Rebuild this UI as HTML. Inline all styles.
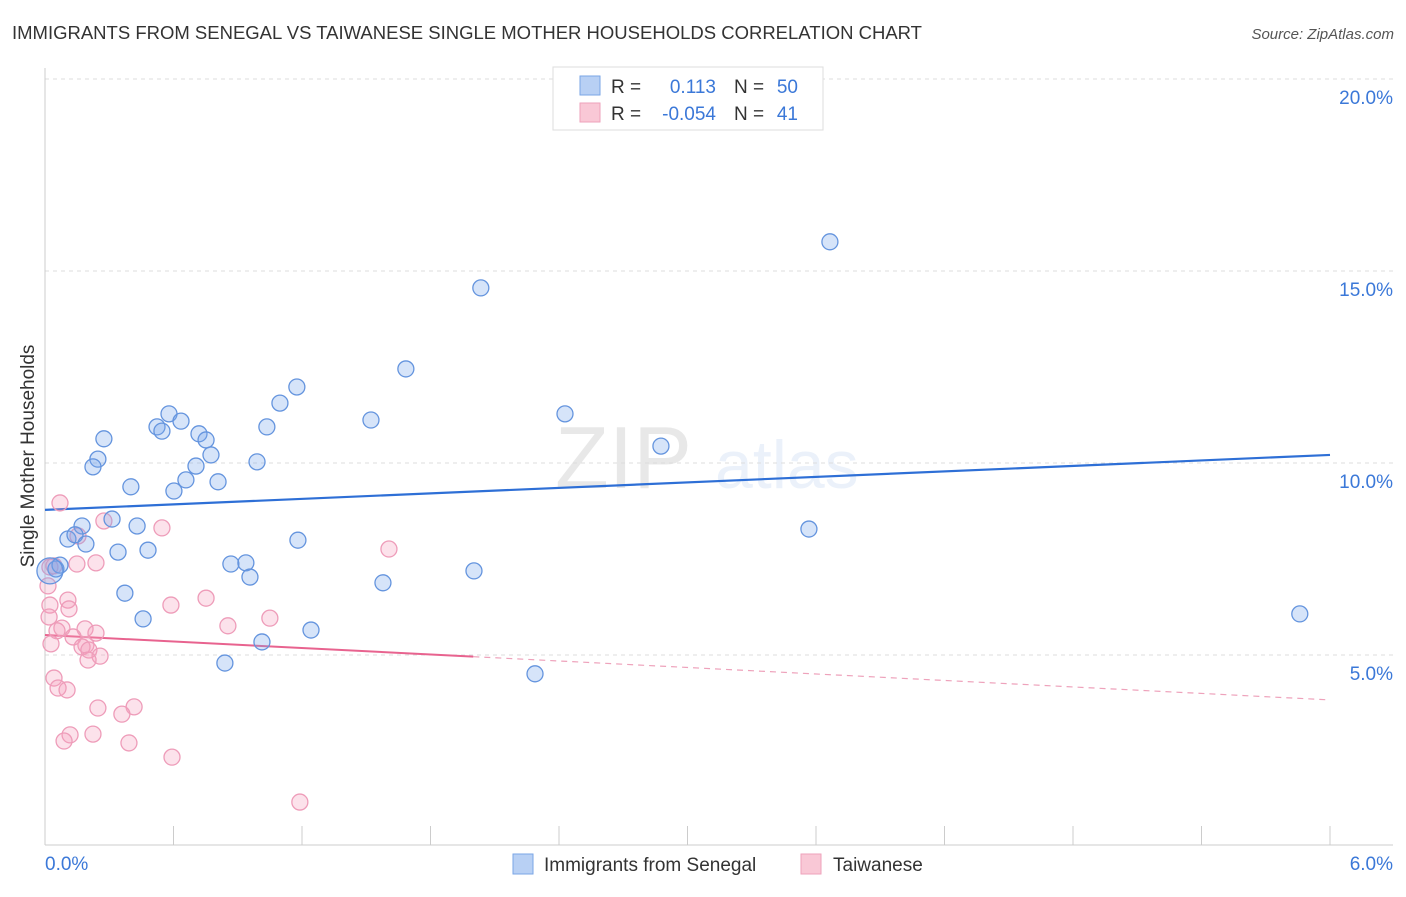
<!DOCTYPE html>
<html><head><meta charset="utf-8"><style>
body{margin:0;background:#fff;font-family:"Liberation Sans",sans-serif;}
svg text{font-family:"Liberation Sans",sans-serif;}
</style></head><body>
<svg id="chart" width="1406" height="892" xmlns="http://www.w3.org/2000/svg">
<text x="12" y="39" font-size="18" fill="#333" textLength="910" lengthAdjust="spacingAndGlyphs">IMMIGRANTS FROM SENEGAL VS TAIWANESE SINGLE MOTHER HOUSEHOLDS CORRELATION CHART</text>
<text x="1394" y="39" font-size="15" fill="#555" text-anchor="end" font-style="italic">Source: ZipAtlas.com</text>
<g opacity="0.13">
<text x="555" y="488" font-size="88" font-family="Liberation Serif" fill="#555">ZIP</text>
<text x="715" y="488" font-size="68" fill="#6b9be0">atlas</text>
</g>
<g id="grid"></g>
<g id="axes"></g>
<g id="trend"></g>
<g id="points"></g>
<text transform="translate(34,456) rotate(-90)" font-size="19" fill="#333" text-anchor="middle">Single Mother Households</text>
<g>
<rect x="553" y="67" width="270" height="63" fill="#fff" stroke="#ddd"/>
<rect x="580" y="76" width="20" height="19" fill="#b8d0f4" stroke="#7aa6e6"/>
<rect x="580" y="103" width="20" height="19" fill="#f9c8d6" stroke="#eea2bb"/>
<text x="611" y="93" font-size="19" fill="#333">R =</text>
<text x="716" y="93" font-size="19" fill="#3b78d8" text-anchor="end">0.113</text>
<text x="734" y="93" font-size="19" fill="#333">N =</text>
<text x="798" y="93" font-size="19" fill="#3b78d8" text-anchor="end">50</text>
<text x="611" y="120" font-size="19" fill="#333">R =</text>
<text x="716" y="120" font-size="19" fill="#3b78d8" text-anchor="end">-0.054</text>
<text x="734" y="120" font-size="19" fill="#333">N =</text>
<text x="798" y="120" font-size="19" fill="#3b78d8" text-anchor="end">41</text>
</g>
<g>
<rect x="513" y="854" width="20" height="20" fill="#b8d0f4" stroke="#7aa6e6"/>
<text x="544" y="871" font-size="19" fill="#333">Immigrants from Senegal</text>
<rect x="801" y="854" width="20" height="20" fill="#f9c8d6" stroke="#eea2bb"/>
<text x="833" y="871" font-size="19" fill="#333">Taiwanese</text>
</g>
</svg>
<script>
const blueX=[2.035,3.665,1.685,1.176,1.097,0.579,0.635,0.523,0.546,1.036,1.522,2.428,0.275,0.719,0.752,2.876,0.247,0.224,0.775,0.705,0.990,0.658,0.401,0.808,0.602,0.313,0.173,0.430,0.107,0.140,0.191,1.181,0.341,0.481,3.567,0.868,0.938,0.957,0.051,0.070,0.023,2.003,1.578,0.373,0.458,1.242,1.013,0.840,2.288,5.859];
const blueY=[14.56,15.76,12.45,11.98,11.56,11.28,11.09,10.94,10.83,10.94,11.12,11.28,10.63,10.76,10.60,10.44,10.10,9.90,10.21,9.92,10.03,9.56,9.38,9.51,9.27,8.54,8.36,8.36,8.02,8.13,7.89,7.99,7.68,7.73,8.28,7.37,7.40,7.03,7.24,7.34,7.19,7.19,6.88,6.61,5.94,5.65,5.34,4.79,4.51,6.07];
const pinkX=[0.070,0.275,0.546,0.154,1.606,0.238,0.149,0.023,0.014,0.107,0.023,0.112,0.752,0.588,0.019,1.050,0.854,0.079,0.056,0.187,0.238,0.131,0.191,0.173,0.205,0.257,0.201,0.028,0.042,0.061,0.103,0.247,0.416,0.359,0.224,0.117,0.089,0.392,0.593,1.190,0.042];
const pinkY=[8.96,8.49,8.31,8.10,7.76,7.40,7.37,7.29,6.80,6.43,6.30,6.20,6.48,6.30,5.99,5.96,5.76,5.70,5.63,5.68,5.57,5.47,5.26,5.21,5.13,4.97,4.87,5.29,4.40,4.14,4.09,3.62,3.65,3.46,2.94,2.92,2.76,2.71,2.34,1.17,7.32];
const blueTrend=[8.78,10.21];
const pinkTrend=[5.52,3.83];
const pinkSolidEnd=2.0;
const yTicks=[5,10,15,20];
const xTickLabels=["0.0%","6.0%"];
const NS="http://www.w3.org/2000/svg";
const X=v=>45+v*1285/6, Y=v=>79+(20-v)*38.4;
function mk(tag,attrs,parent){const e=document.createElementNS(NS,tag);for(const k in attrs)e.setAttribute(k,attrs[k]);parent.appendChild(e);return e;}
const grid=document.getElementById('grid'),axes=document.getElementById('axes'),trend=document.getElementById('trend'),pts=document.getElementById('points');
yTicks.forEach(t=>{
 const l=mk('line',{x1:45,x2:1393,y1:Y(t),y2:Y(t),stroke:'#ddd','stroke-dasharray':'4,4'},grid);
 
 
 const tx=mk('text',{x:1393,y:Y(t)+25,'font-size':19,fill:'#3b78d8','text-anchor':'end'},axes);
 tx.textContent=t.toFixed(1)+'%';
 
 
});
mk('line',{x1:45,x2:45,y1:68,y2:845,stroke:'#ccc'},axes);
mk('line',{x1:45,x2:1393,y1:845,y2:845,stroke:'#ccc'},axes);
for(let i=0;i<=10;i++){const t=mk('line',{x1:X(i*0.6),x2:X(i*0.6),y1:826,y2:845,stroke:'#ccc'},axes);
 
 }
const xl0=mk('text',{x:45,y:870,'font-size':19,fill:'#3b78d8'},axes);xl0.textContent=xTickLabels[0];


const xl1=mk('text',{x:1393,y:870,'font-size':19,fill:'#3b78d8','text-anchor':'end'},axes);xl1.textContent=xTickLabels[1];


const bl=mk('line',{x1:X(0),y1:Y(blueTrend[0]),x2:X(6),y2:Y(blueTrend[1]),stroke:'#2e6fd6','stroke-width':2.2},trend);


const pAt=x=>pinkTrend[0]+(pinkTrend[1]-pinkTrend[0])*x/6;
const pl=mk('line',{x1:X(0),y1:Y(pinkTrend[0]),x2:X(pinkSolidEnd),y2:Y(pAt(pinkSolidEnd)),stroke:'#e8638f','stroke-width':2},trend);


const pd=mk('line',{x1:X(pinkSolidEnd),y1:Y(pAt(pinkSolidEnd)),x2:X(6),y2:Y(pinkTrend[1]),stroke:'#eea2bb','stroke-width':1.2,'stroke-dasharray':'6,5'},trend);


pinkX.forEach((x,i)=>{const c=mk('circle',{cx:X(x),cy:Y(pinkY[i]),r:8,fill:'rgba(244,160,190,0.3)',stroke:'#ee9cb9','stroke-width':1.3},pts);
 
 });
blueX.forEach((x,i)=>{const c=mk('circle',{cx:X(x),cy:Y(blueY[i]),r:(i==40?13:8),fill:'rgba(120,165,235,0.3)',stroke:'#6494de','stroke-width':1.3},pts);
 
 });
</script>
</body></html>
